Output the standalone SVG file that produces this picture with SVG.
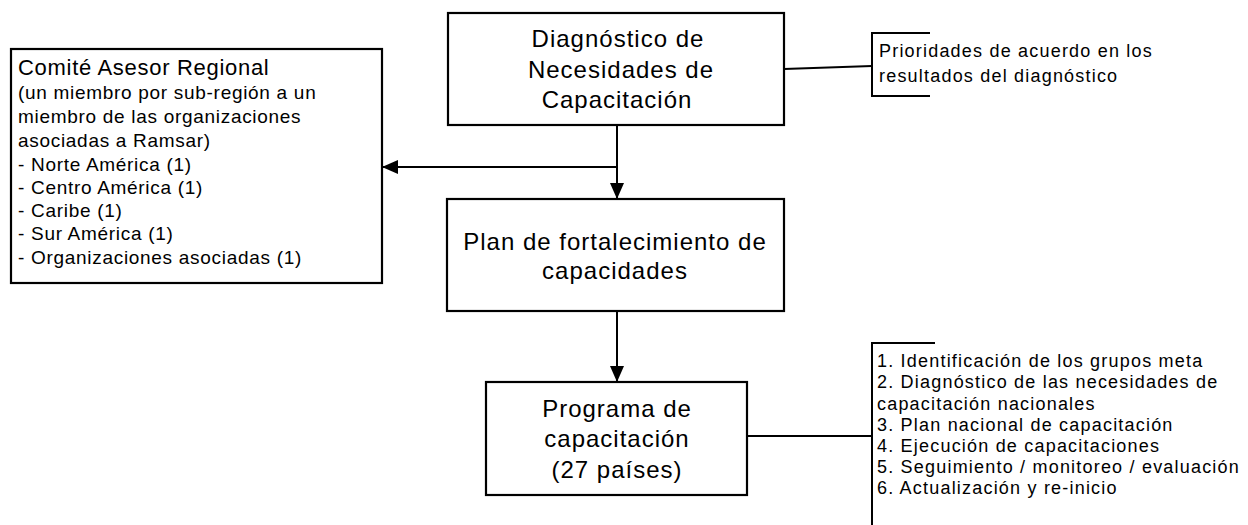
<svg xmlns="http://www.w3.org/2000/svg" width="1248" height="525" viewBox="0 0 1248 525">
<style>
.box{fill:#fff;stroke:#000;stroke-width:2.2}
.ln{fill:none;stroke:#000;stroke-width:2}
.t{font-family:"Liberation Sans",Arial,sans-serif;fill:#000}
.big{font-size:24px;letter-spacing:1px;text-anchor:middle}
.med{font-size:19px;letter-spacing:0.7px}
.hd{font-size:22px;letter-spacing:0.7px}
.sm{font-size:18px;letter-spacing:1.2px}
</style>
<defs>
<marker id="ah" viewBox="0 0 16 14" refX="16" refY="7" markerWidth="16" markerHeight="14" markerUnits="userSpaceOnUse" orient="auto">
<path d="M0,0 L16,7 L0,14 z" fill="#000"/>
</marker>
</defs>
<rect width="1248" height="525" fill="#fff"/>
<g id="connectors">
<path class="ln" d="M617,125 V199" marker-end="url(#ah)"/>
<path class="ln" d="M617,167 H382" marker-end="url(#ah)"/>
<path class="ln" d="M617,311 V382" marker-end="url(#ah)"/>
<path class="ln" d="M784,69 L872,66"/>
<path class="ln" d="M747,436 H872"/>
</g>
<g id="diagnostico">
<rect class="box" x="448" y="13" width="336" height="112"/>
<text class="t big" x="618" y="47">Diagnóstico de</text>
<text class="t big" x="621" y="78">Necesidades de</text>
<text class="t big" x="617" y="108">Capacitación</text>
</g>
<g id="prioridades">
<path class="ln" d="M930,33 H872 V96 H930"/>
<text class="t sm" x="879" y="57">Prioridades de acuerdo en los</text>
<text class="t sm" x="879" y="82">resultados del diagnóstico</text>
</g>
<g id="comite">
<rect class="box" x="11" y="49" width="371" height="234"/>
<text class="t hd" x="18" y="75">Comité Asesor Regional</text>
<text class="t med" x="18" y="99">(un miembro por sub-región a un</text>
<text class="t med" x="18" y="123">miembro de las organizaciones</text>
<text class="t med" x="18" y="147">asociadas a Ramsar)</text>
<text class="t med" x="18" y="171">- Norte América (1)</text>
<text class="t med" x="18" y="194">- Centro América (1)</text>
<text class="t med" x="18" y="217">- Caribe (1)</text>
<text class="t med" x="18" y="240">- Sur América (1)</text>
<text class="t med" x="18" y="264">- Organizaciones asociadas (1)</text>
</g>
<g id="plan">
<rect class="box" x="447" y="199" width="337" height="112"/>
<text class="t big" x="615" y="250">Plan de fortalecimiento de</text>
<text class="t big" x="615" y="279">capacidades</text>
</g>
<g id="programa">
<rect class="box" x="486" y="382" width="261" height="113"/>
<text class="t big" x="617" y="417">Programa de</text>
<text class="t big" x="617" y="447">capacitación</text>
<text class="t big" x="617" y="478">(27 países)</text>
</g>
<g id="pasos">
<path class="ln" d="M935,343 H872 V526"/>
<text class="t sm" x="877" y="367">1. Identificación de los grupos meta</text>
<text class="t sm" x="877" y="388">2. Diagnóstico de las necesidades de</text>
<text class="t sm" x="877" y="410">capacitación nacionales</text>
<text class="t sm" x="877" y="431">3. Plan nacional de capacitación</text>
<text class="t sm" x="877" y="452">4. Ejecución de capacitaciones</text>
<text class="t sm" x="877" y="473">5. Seguimiento / monitoreo / evaluación</text>
<text class="t sm" x="877" y="494">6. Actualización y re-inicio</text>
</g>
</svg>
